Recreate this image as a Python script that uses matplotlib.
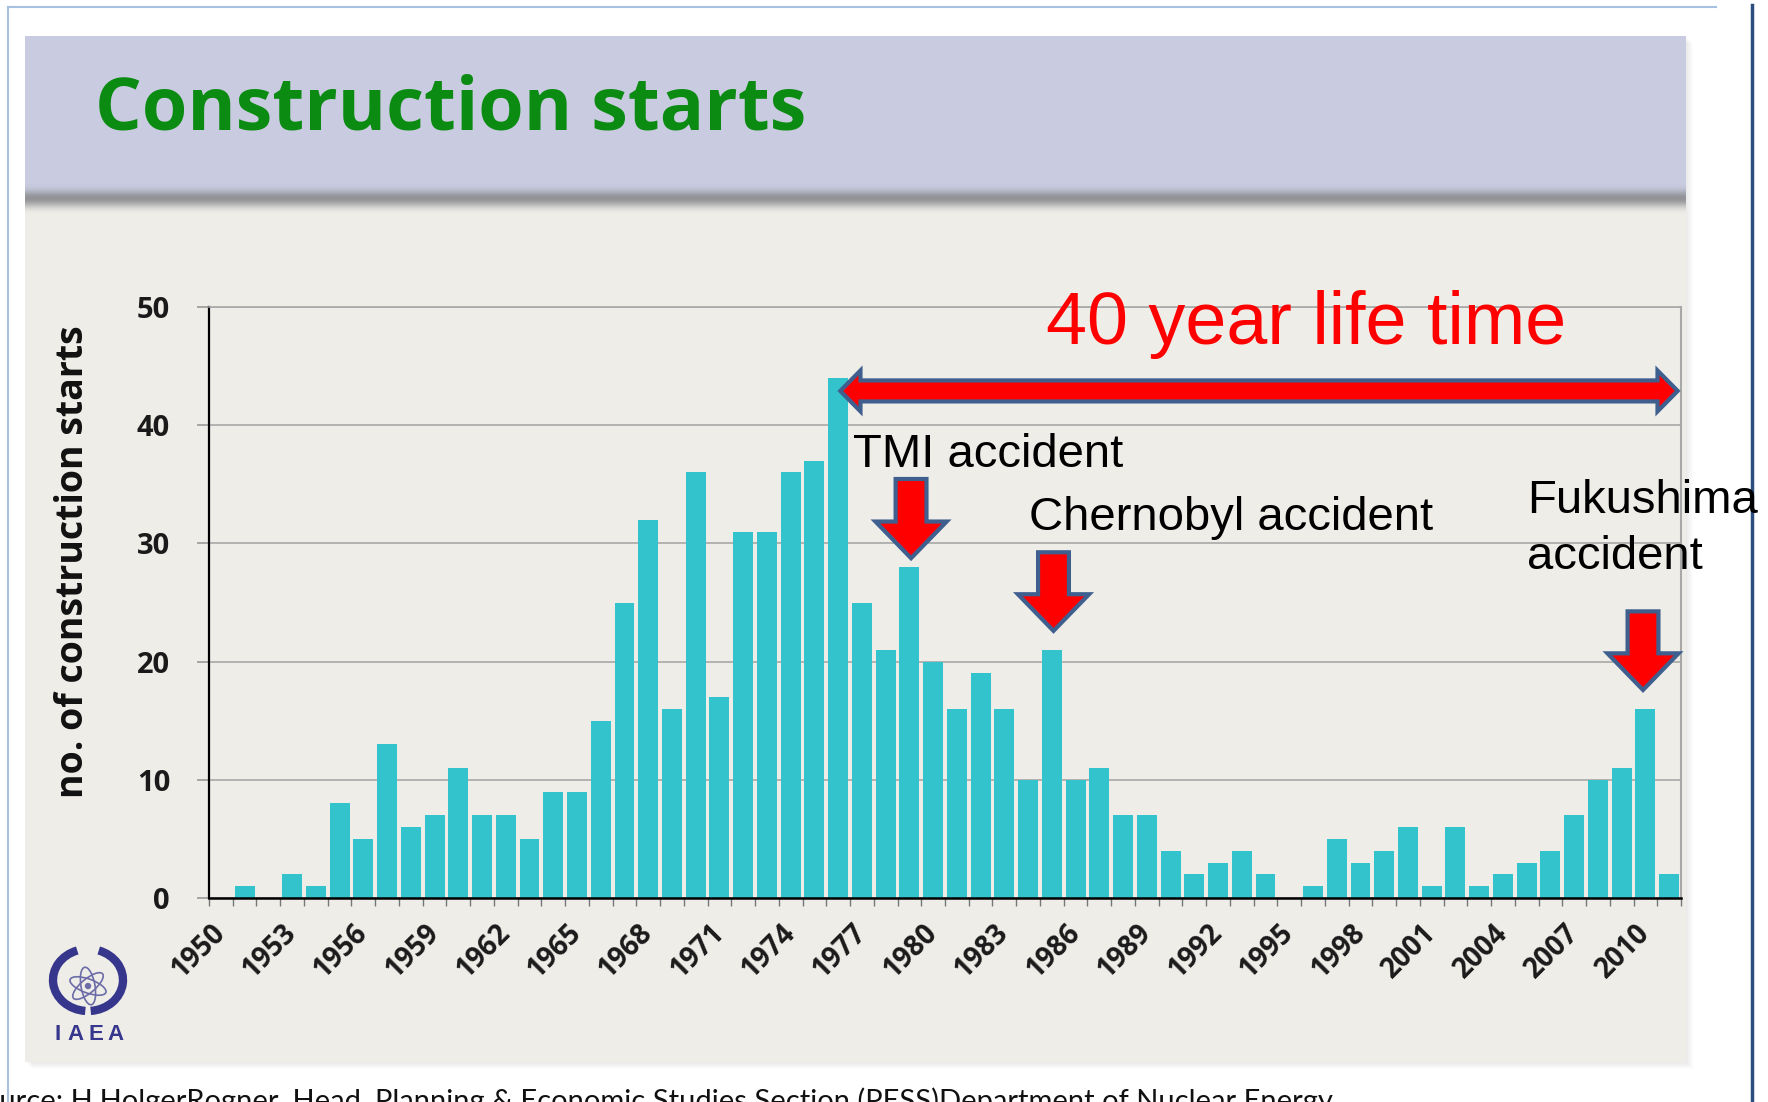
import numpy as np
import matplotlib
matplotlib.use("Agg")
import matplotlib.pyplot as plt
from matplotlib.patches import Rectangle, Polygon, Ellipse, Arc

years = list(range(1950, 2012))
starts = [0, 1, 0, 2, 1, 8, 5, 13, 6, 7,
          11, 7, 7, 5, 9, 9, 15, 25, 32, 16,
          36, 17, 31, 31, 36, 37, 44, 25, 21, 28,
          20, 16, 19, 16, 10, 21, 10, 11, 7, 7,
          4, 2, 3, 4, 2, 0, 1, 5, 3, 4,
          6, 1, 6, 1, 2, 3, 4, 7, 10, 11,
          16, 2]
yticks = [0, 10, 20, 30, 40, 50]

event_labels = ["TMI accident", "Chernobyl accident", "Fukushima", "accident"]
event_years = [1979, 1985, 2010]
# (top, tip) of the red down arrows, in chart units
event_arrows = [(35.45, 28.75), (29.25, 22.6), (24.25, 17.6)]

W, H = 1768, 1102
fig = plt.figure(figsize=(W / 100, H / 100), dpi=100)
fig.patch.set_facecolor("white")

# slide background, drawn in pixel coordinates
bg = fig.add_axes([0, 0, 1, 1], zorder=0)
bg.set_xlim(0, W)
bg.set_ylim(H, 0)
bg.axis("off")

for k in range(1, 8):
    bg.add_patch(Rectangle((25 + k, 36 + k), 1661, 1026, color="black", alpha=0.012, lw=0))
bg.add_patch(Rectangle((25, 36), 1661, 1026, color="#EFEDE8", lw=0))
bg.add_patch(Rectangle((25, 36), 1661, 150, color="#C9CCE0", lw=0))

# header shadow
grad = np.array([[0.788, 0.800, 0.878], [0.70, 0.71, 0.76], [0.55, 0.55, 0.57],
                 [0.60, 0.60, 0.61], [0.80, 0.80, 0.79], [0.937, 0.929, 0.910]])
grad = grad[:, None, :]
bg.imshow(grad, extent=(25, 1686, 214, 184), aspect="auto", origin="upper",
          interpolation="bicubic", zorder=1)
bg.set_xlim(0, W)
bg.set_ylim(H, 0)

bg.text(95, 129, "Construction starts", fontsize=53, fontweight="bold",
        color="#0B8B12", family="Open Sans", va="baseline", ha="left")

# frame lines of the page
bg.plot([8, 8], [7, H], color="#A7C0E0", lw=1.5)
bg.plot([8, 1716], [7, 7], color="#A7C0E0", lw=1.5)
bg.plot([1752, 1752], [5, H], color="#2C4E7E", lw=2.5)

# IAEA logo
navy = "#35368C"
for ang in (20, 80, 140):
    bg.add_patch(Ellipse((88, 986), 38, 14, angle=ang, fill=False, ec="#6C6CA8", lw=1.2))
bg.add_patch(Ellipse((88, 986), 5, 5, color="#6C6CA8"))
bg.add_patch(Arc((88, 980), 70, 62, theta1=95, theta2=250, ec=navy, lw=6))
bg.add_patch(Arc((88, 980), 70, 62, theta1=-70, theta2=85, ec=navy, lw=6))
for ch, cx in zip("IAEA", [58, 75, 96, 115]):
    bg.text(cx, 1034, ch, fontsize=16, fontweight="bold", color=navy,
            family="Liberation Sans", ha="center", va="center")

bg.text(73, 562, "no. of construction starts", rotation=90, ha="center", va="center",
        fontsize=27, fontweight="bold", family="Open Sans", color="#111111")

bg.text(-33, 1110, "Source: H.HolgerRogner, Head, Planning & Economic Studies Section "
        "(PESS)Department of Nuclear Energy", fontsize=21, family="Lato",
        va="baseline", ha="left", color="#111111")

# chart
ax = fig.add_axes([209 / W, (H - 898) / H, (1681 - 209) / W, (898 - 307) / H], zorder=2)
ax.set_facecolor("none")
x = np.arange(len(years))
ax.bar(x, starts, width=0.84, color="#33C3CC", zorder=2)
ax.set_xlim(-0.5, len(years) - 0.5)
ax.set_ylim(0, 50)

ax.set_yticks(yticks)
ax.set_yticklabels([str(v) for v in yticks], fontsize=21, fontweight="bold",
                   family="Open Sans", color="#1A1A1A")
ax.tick_params(axis="y", length=9, width=1.2, color="#999999", pad=19)
ax.grid(axis="y", color="#A8A8A8", lw=1.2, zorder=1)
ax.set_axisbelow(True)

ax.set_xticks(np.arange(-0.5, len(years), 1))
ax.set_xticklabels([])
ax.tick_params(axis="x", which="major", length=6, width=1, color="#777777")
label_idx = [i for i, yr in enumerate(years) if yr % 3 == 0]
ax.set_xticks(label_idx, minor=True)
ax.set_xticklabels([str(years[i]) for i in label_idx], minor=True, rotation=45,
                   ha="right", va="center", rotation_mode="anchor", fontsize=20,
                   fontweight="bold", family="Open Sans", color="#1A1A1A")
ax.tick_params(axis="x", which="minor", length=0, pad=22)

ax.spines["left"].set_color("black")
ax.spines["left"].set_linewidth(1.6)
ax.spines["bottom"].set_color("black")
ax.spines["bottom"].set_linewidth(1.8)
ax.spines["top"].set_color("#A8A8A8")
ax.spines["top"].set_linewidth(1.2)
ax.spines["right"].set_color("#A8A8A8")
ax.spines["right"].set_linewidth(1.5)

red = "#FF0000"
edge = "#3F5F8F"


def down_arrow(xc, top, tip, shaft=0.65, head=1.5, head_len=3.1):
    neck = tip + head_len
    pts = [(xc - shaft, top), (xc + shaft, top), (xc + shaft, neck), (xc + head, neck),
           (xc, tip), (xc - head, neck), (xc - shaft, neck)]
    ax.add_patch(Polygon(pts, closed=True, fc=red, ec=edge, lw=3, zorder=5,
                         clip_on=False, joinstyle="miter"))


def double_arrow(x0, x1, yc, shaft=0.89, head=1.73, head_len=0.85):
    pts = [(x0, yc), (x0 + head_len, yc + head), (x0 + head_len, yc + shaft),
           (x1 - head_len, yc + shaft), (x1 - head_len, yc + head), (x1, yc),
           (x1 - head_len, yc - head), (x1 - head_len, yc - shaft),
           (x0 + head_len, yc - shaft), (x0 + head_len, yc - head)]
    ax.add_patch(Polygon(pts, closed=True, fc=red, ec=edge, lw=3, zorder=5,
                         clip_on=False, joinstyle="miter"))


life_start = years.index(1976) + 0.09
double_arrow(life_start, len(years) - 0.64, 42.9)
ax.text(34.77, 46.9, "40 year life time", fontsize=53, color=red,
        family="Liberation Sans", va="baseline", ha="left", zorder=6, clip_on=False)

for yr, (top, tip) in zip(event_years, event_arrows):
    down_arrow(years.index(yr) + 0.07 * (yr != 2010) - 0.1 * (yr == 2010), top, tip)

ann = dict(fontsize=34, color="black", family="Liberation Sans", va="baseline",
           ha="left", zorder=6, clip_on=False)
ax.text(26.64, 36.5, event_labels[0], **ann)
ax.text(34.03, 31.1, event_labels[1], **ann)
ax.text(55.0, 32.6, event_labels[2], **ann)
ax.text(55.0, 27.8, event_labels[3], **ann)

fig.savefig("out.png", dpi=100)
